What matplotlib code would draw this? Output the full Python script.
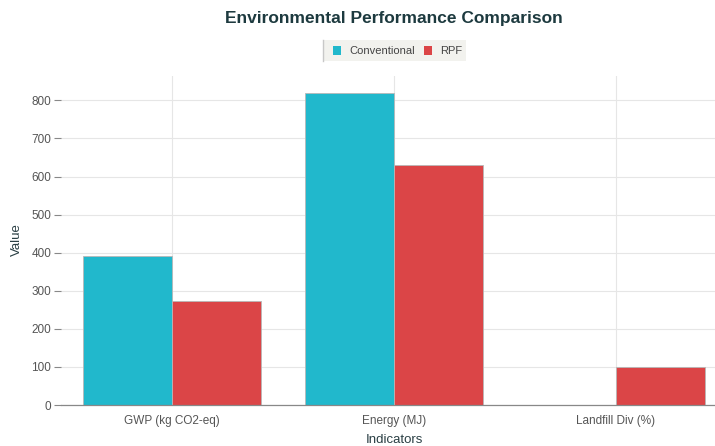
import matplotlib
matplotlib.use("Agg")
import matplotlib.pyplot as plt
import numpy as np
from matplotlib.patches import Rectangle

categories = ["GWP (kg CO2-eq)", "Energy (MJ)", "Landfill Div (%)"]
conventional = [390, 820, 0]
rpf = [272, 630, 100]
series_names = ["Conventional", "RPF"]
colors = ["#21b8cc", "#db4547"]
yticks = [0, 100, 200, 300, 400, 500, 600, 700, 800]

plt.rcParams["font.family"] = ["Liberation Sans", "DejaVu Sans"]

fig = plt.figure(figsize=(7.15, 4.46), dpi=100)
W, H = 715, 446
left, right, top, bottom = 61, 727, 76, 405
ax = fig.add_axes([left / W, 1 - bottom / H, (right - left) / W, (bottom - top) / H])

x = np.arange(len(categories))
w = 0.4
ax.bar(x - w / 2, conventional, w, color=colors[0], edgecolor="#b8b8b8", linewidth=0.6, zorder=3)
ax.bar(x + w / 2, rpf, w, color=colors[1], edgecolor="#b8b8b8", linewidth=0.6, zorder=3)

ax.set_xlim(-0.5, 2.5)
ax.set_ylim(0, 864)
ax.set_yticks(yticks)
ax.set_xticks(x)
ax.set_xticklabels(categories)
ax.grid(True, color="#e6e6e6", linewidth=0.8, zorder=0)
ax.set_axisbelow(True)
for s in ["top", "right", "left"]:
    ax.spines[s].set_visible(False)
ax.spines["bottom"].set_color("#888888")
ax.spines["bottom"].set_linewidth(0.9)
ax.spines["bottom"].set_zorder(4)
ax.tick_params(axis="y", length=5, color="#888888", width=0.8, labelsize=8.5, labelcolor="#555555", pad=2)
ax.tick_params(axis="x", length=0, labelsize=8.5, labelcolor="#555555", pad=7)

cx = 394 / W
fig.text(17 / W, 1 - 240 / H, "Value", rotation=90, ha="center", va="center",
         fontsize=9.5, color="#2a3f44")
fig.text(cx, 1 - 440 / H, "Indicators", ha="center", va="center",
         fontsize=9.5, color="#2a3f44")

fig.text(cx, 1 - 19 / H, "Environmental Performance Comparison", ha="center", va="center",
         fontsize=12.5, fontweight="bold", color="#1d3a3f")

# legend box
lx0, lx1, ly0, ly1 = 323, 466, 40, 61
fig.patches.append(Rectangle((lx0 / W, 1 - ly1 / H), (lx1 - lx0) / W, (ly1 - ly0) / H,
                             transform=fig.transFigure, facecolor="#f2f2ee", edgecolor="none", zorder=1))
fig.add_artist(plt.Line2D([lx0 / W, lx0 / W], [1 - ly1 / H, 1 - ly0 / H], transform=fig.transFigure,
                          color="#c8c8c8", linewidth=1))
items = [(337, series_names[0], colors[0]), (428, series_names[1], colors[1])]
for px, name, c in items:
    fig.patches.append(Rectangle(((px - 4) / W, 1 - 54.5 / H), 8 / W, 8 / H, transform=fig.transFigure,
                                 facecolor=c, edgecolor="none", zorder=2))
    fig.text((px + 12) / W, 1 - 50.5 / H, name, ha="left", va="center", fontsize=8, color="#444444")

fig.savefig("out.png", dpi=100)
